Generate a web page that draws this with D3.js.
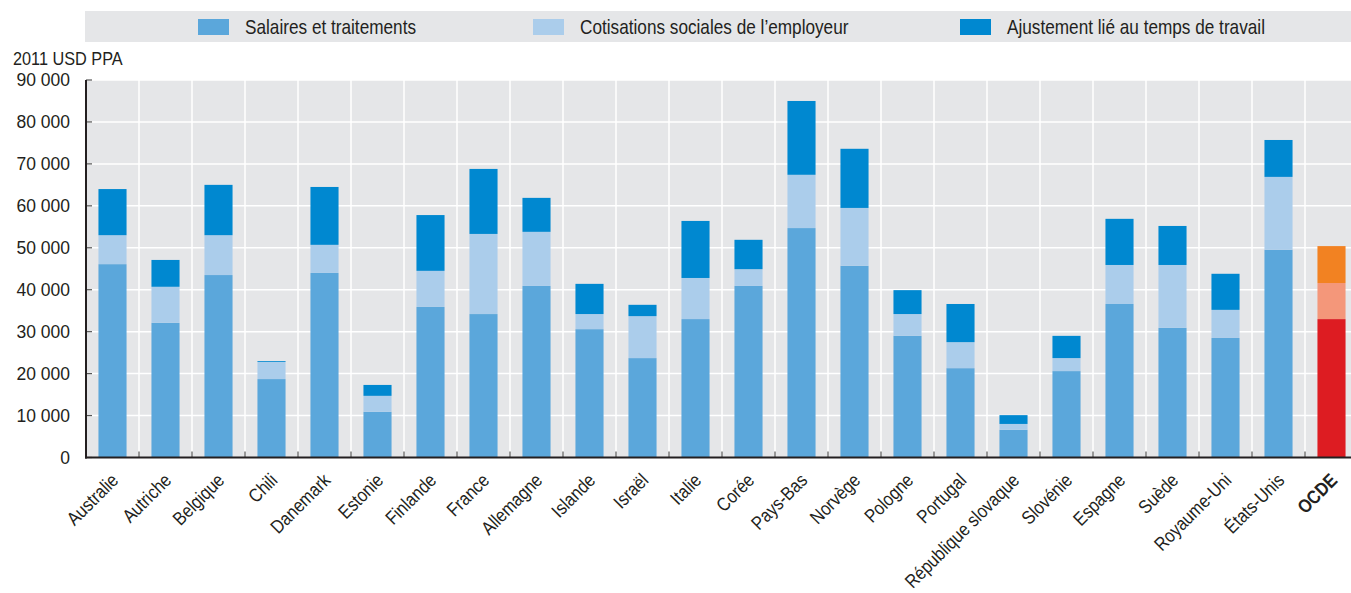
<!DOCTYPE html>
<html><head><meta charset="utf-8">
<script src="https://cdn.jsdelivr.net/npm/d3@7"></script>
<style>
body{margin:0;background:#fff;}
text{font-family:"Liberation Sans",Arial,sans-serif;fill:#231f20;}
</style></head>
<body><svg id="c" width="1351" height="593"></svg>
<script>
const categories = ["Australie","Autriche","Belgique","Chili","Danemark","Estonie","Finlande","France","Allemagne","Islande","Israël","Italie","Corée","Pays-Bas","Norvège","Pologne","Portugal","République slovaque","Slovénie","Espagne","Suède","Royaume-Uni","États-Unis","OCDE"];
const salaires     = [46100,32100,43500,18700,44000,10900,35900,34200,40900,30600,23700,33000,40900,54700,45700,29000,21300,6600,20600,36600,30900,28500,49500,33000];
const cotisations  = [6900,8600,9500,4100,6700,3800,8600,19100,12900,3600,10000,9800,4000,12700,13800,5200,6200,1400,3100,9300,15000,6700,17400,8600];
const ajustement   = [11000,6400,12000,200,13800,2600,13300,15500,8100,7200,2700,13600,7000,17600,14100,5700,9100,2100,5300,11000,9300,8600,8800,8800];
const seriesNames  = ["Salaires et traitements","Cotisations sociales de l’employeur","Ajustement lié au temps de travail"];
const yTicks       = [0,10000,20000,30000,40000,50000,60000,70000,80000,90000];
const yTitle       = "2011 USD PPA";

const colors   = ["#5ba7db","#abcdeb","#0088d0"];
const hlColors = ["#dd1c22","#f4977a","#f28222"];
const highlight = "OCDE";
const SX = 0.86; // condensed look

const svg = d3.select("#c");
const L = 86, R = 1358, T = 80, B = 457.5;

// legend
svg.append("rect").attr("x",85).attr("y",11).attr("width",1266).attr("height",31).attr("fill","#e5e6e8");
const legX = [198,533,960];
seriesNames.forEach((n,i)=>{
  svg.append("rect").attr("x",legX[i]).attr("y",19).attr("width",31).attr("height",16).attr("fill",colors[i]);
  svg.append("text").attr("transform",`translate(${legX[i]+47},34.3) scale(${SX},1)`)
    .attr("font-size",20).text(n);
});

const x = d3.scaleBand().domain(categories).range([L,R]).paddingInner(0.47).paddingOuter(0.235);
const y = d3.scaleLinear().domain([0,90000]).range([B,T]);
const step = x.step();

// plot bg
svg.append("rect").attr("x",L).attr("y",T).attr("width",R-L).attr("height",B-T).attr("fill","#e5e6e8");

// grid
const g = svg.append("g");
g.selectAll(".hg").data(yTicks.filter(d=>d>0)).join("line")
  .attr("x1",L).attr("x2",R).attr("y1",d=>y(d)).attr("y2",d=>y(d))
  .attr("stroke","#fff").attr("stroke-width",1.5);
const bounds = categories.slice(1).map(c=>x(c)+x.bandwidth()/2-step/2);
g.selectAll(".vg").data(bounds).join("line")
  .attr("x1",d=>d).attr("x2",d=>d).attr("y1",T).attr("y2",B)
  .attr("stroke","#fff").attr("stroke-width",1.5);

// stacked bars
const stackData = categories.map((c,i)=>({c, s0:salaires[i], s1:cotisations[i], s2:ajustement[i]}));
const stack = d3.stack().keys(["s0","s1","s2"])(stackData);
stack.forEach((layer,k)=>{
  svg.append("g").selectAll("rect").data(layer).join("rect")
    .attr("x",d=>x(d.data.c)).attr("width",x.bandwidth())
    .attr("y",d=>y(d[1])).attr("height",d=>y(d[0])-y(d[1]))
    .attr("fill",d=>d.data.c===highlight?hlColors[k]:colors[k]);
});

// x ticks (inside)
svg.append("g").selectAll("line").data(bounds).join("line")
  .attr("x1",d=>d).attr("x2",d=>d).attr("y1",B-6).attr("y2",B)
  .attr("stroke","#555").attr("stroke-width",1.2);

// y axis
const yAxis = d3.axisLeft(y).tickValues(yTicks).tickSize(0).tickPadding(16)
  .tickFormat(d=>d3.format(",")(d).replace(/,/g," "));
const ya = svg.append("g").attr("transform",`translate(${L},0)`).call(yAxis);
ya.select(".domain").remove();
ya.selectAll("text").attr("font-size",17.5).attr("fill","#231f20").style("font-family",null);
svg.append("g").selectAll("line").data(yTicks).join("line")
  .attr("x1",L).attr("x2",L+6).attr("y1",d=>y(d)).attr("y2",d=>y(d))
  .attr("stroke","#555").attr("stroke-width",1.2);
svg.append("line").attr("x1",L).attr("x2",L).attr("y1",T).attr("y2",B+1).attr("stroke","#231f20").attr("stroke-width",2);
svg.append("line").attr("x1",L-1).attr("x2",R).attr("y1",B).attr("y2",B).attr("stroke","#231f20").attr("stroke-width",2);

svg.append("text").attr("transform",`translate(13,65) scale(0.88,1)`).attr("font-size",18.5).text(yTitle);

// x labels
svg.append("g").selectAll("text").data(categories).join("text")
  .attr("transform",d=>`translate(${x(d)+x.bandwidth()/2+7},${B+24}) rotate(-45) scale(${SX},1)`)
  .attr("text-anchor","end").attr("font-size",19)
  .attr("font-weight",d=>d===highlight?"bold":null)
  .text(d=>d);
</script></body></html>
